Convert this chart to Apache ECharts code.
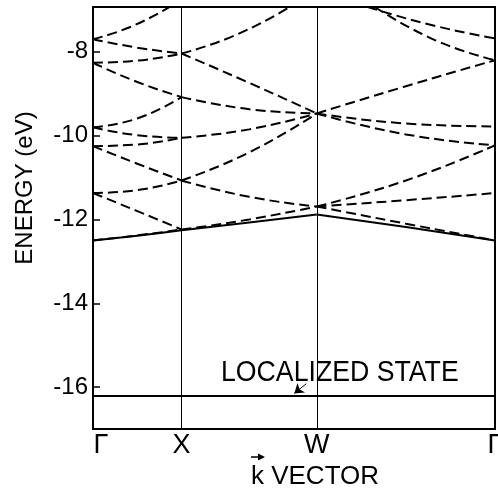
<!DOCTYPE html>
<html>
<head>
<meta charset="utf-8">
<script src="https://cdn.jsdelivr.net/npm/echarts@6/dist/echarts.min.js"></script>
<style>
  html, body { margin: 0; padding: 0; background: #fff; }
  #band-chart { width: 498px; height: 488px; }
</style>
</head>
<body>
<div id="band-chart"></div>
<script>
// symmetry points along the path (k in arbitrary path units)
const kTicks = [0, 88.5, 223.5, 401.5]
const kLabels = ['Γ', 'X', 'W', 'Γ']
const energyTicks = [-16, -14, -12, -10, -8]

// k samples for each leg: start, middle, end
const kGX = [0, 44.25, 88.5]
const kXW = [88.5, 156, 223.5]
const kWG = [223.5, 312.5, 401.5]

// dashed bands, energies (eV) read at the k samples above
const bandsGX = [
  [-7.70, -7.90, -8.04],
  [-8.26, -8.21, -8.04],
  [-8.26, -8.72, -9.08],
  [-9.80, -9.59, -9.08],
  [-9.80, -9.99, -10.05],
  [-10.25, -10.21, -10.05],
  [-10.25, -10.67, -11.07],
  [-11.37, -11.30, -11.07],
  [-11.37, -11.80, -12.24],
  [-12.50, -12.38, -12.24]
]
const bandsXW = [
  [-8.04, -8.74, -9.47],
  [-9.08, -9.37, -9.47],
  [-10.05, -9.85, -9.47],
  [-11.07, -10.40, -9.47],
  [-11.07, -11.46, -11.69],
  [-12.24, -12.00, -11.69]
]
const bandsWG = [
  [-9.47, -8.82, -8.20],
  [-9.47, -9.71, -9.78],
  [-9.47, -9.97, -10.23],
  [-11.69, -11.07, -10.23],
  [-11.69, -11.54, -11.37],
  [-11.69, -12.10, -12.50]
]
// dashed bands leaving through the top of the frame
const topBands = [
  [[0, -7.70], [38, -7.40], [76.5, -6.93]],
  [[88.5, -8.04], [142.5, -7.60], [196.5, -6.93]],
  [[274.5, -6.93], [338, -7.36], [401.5, -7.68]],
  [[281.5, -6.93], [341.5, -7.72], [401.5, -8.20]]
]
// solid lowest band
const solidGX = [-12.50, -12.39, -12.26]
const solidXW = [-12.26, -12.07, -11.88]
const solidWG = [-11.88, -12.18, -12.50]
// localized state
const localizedE = -16.21

const chart = echarts.init(document.getElementById('band-chart'))

const series = []
function addBand(points, dashed) {
  series.push({
    type: 'line',
    data: points,
    smooth: true,
    showSymbol: false,
    silent: true,
    lineStyle: { color: '#000', width: 2, type: dashed ? [10, 5] : 'solid' }
  })
}
function legPoints(ks, es) {
  return ks.map((k, i) => [k, es[i]])
}
bandsGX.forEach(b => addBand(legPoints(kGX, b), true))
bandsXW.forEach(b => addBand(legPoints(kXW, b), true))
bandsWG.forEach(b => addBand(legPoints(kWG, b), true))
topBands.forEach(b => addBand(b, true))
addBand(legPoints(kGX, solidGX), false)
addBand(legPoints(kXW, solidXW), false)
addBand(legPoints(kWG, solidWG), false)

// localized level, with the symmetry lines and the small arrow
series.push({
  type: 'line',
  data: [[kTicks[0], localizedE], [kTicks[3], localizedE]],
  showSymbol: false,
  silent: true,
  lineStyle: { color: '#000', width: 2 },
  markLine: {
    silent: true,
    symbol: 'none',
    label: { show: false },
    lineStyle: { color: '#000', width: 1, type: 'solid' },
    data: [
      { xAxis: kTicks[1] },
      { xAxis: kTicks[2] },
      [
        { coord: [213, -15.92], symbol: 'none' },
        { coord: [201, -16.15], symbol: 'arrow', symbolSize: 9 }
      ]
    ]
  }
})

const option = {
  animation: false,
  backgroundColor: '#fff',
  grid: {
    left: 93, right: 3, top: 7, bottom: 59,
    outerBoundsMode: 'none',
    show: true, borderColor: '#000', borderWidth: 2
  },
  xAxis: {
    type: 'value',
    min: kTicks[0],
    max: kTicks[3],
    axisLine: { show: true, lineStyle: { color: '#000', width: 2 } },
    axisTick: { show: false },
    splitLine: { show: false },
    axisLabel: {
      customValues: kTicks,
      margin: 3,
      color: '#000',
      fontFamily: 'Liberation Sans',
      fontSize: 27,
      formatter: function(v) {
        const i = kTicks.indexOf(v)
        return i === 0 ? '{g|' + kLabels[i] + '}' : kLabels[i]
      },
      rich: {
        g: { fontFamily: 'Liberation Sans', fontSize: 27, color: '#000', padding: [0, 0, 0, 16] }
      }
    },
    name: 'k VECTOR',
    nameLocation: 'middle',
    nameGap: 28,
    nameTextStyle: {
      color: '#000', fontFamily: 'Liberation Sans', fontSize: 26,
      padding: [0, 0, 0, 42]
    }
  },
  yAxis: {
    type: 'value',
    min: -17,
    max: -6.93,
    axisLine: { show: true, lineStyle: { color: '#000', width: 2 } },
    axisTick: {
      show: true, inside: true, length: 7,
      customValues: energyTicks,
      lineStyle: { color: '#000', width: 1.5 }
    },
    splitLine: { show: false },
    axisLabel: {
      customValues: energyTicks,
      margin: 5,
      color: '#000',
      fontFamily: 'Liberation Sans',
      fontSize: 24
    },
    name: 'ENERGY (eV)',
    nameLocation: 'middle',
    nameGap: 56,
    nameTextStyle: {
      color: '#000', fontFamily: 'Liberation Sans', fontSize: 24,
      padding: [0, 0, 0, 60]
    }
  },
  graphic: [
    {
      type: 'text',
      left: 221,
      top: 358,
      scaleX: 0.92,
      style: {
        text: 'LOCALIZED STATE',
        fill: '#000',
        fontFamily: 'Liberation Sans',
        fontSize: 29
      }
    },
    // vector arrow over the k of the axis name
    {
      type: 'line',
      shape: { x1: 251, y1: 457, x2: 261, y2: 457 },
      style: { stroke: '#000', lineWidth: 1.5 }
    },
    {
      type: 'polygon',
      shape: { points: [[265, 457], [258, 453.5], [258, 460.5]] },
      style: { fill: '#000' }
    }
  ],
  series: series
}

chart.setOption(option)
</script>
</body>
</html>
